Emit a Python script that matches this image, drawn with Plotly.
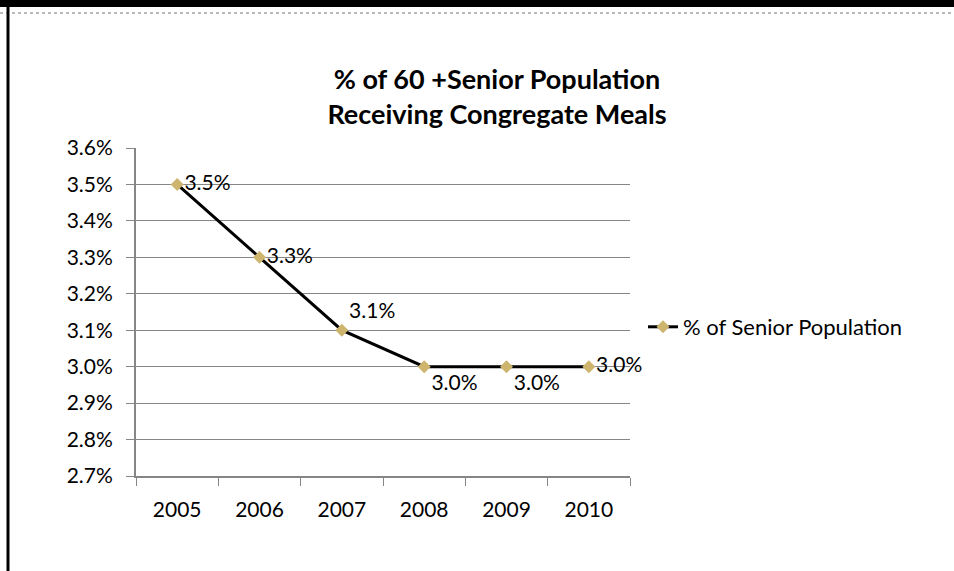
import plotly.graph_objects as go

years = ["2005", "2006", "2007", "2008", "2009", "2010"]
pct_senior = [0.035, 0.033, 0.031, 0.030, 0.030, 0.030]
label_pos = ["middle right", "middle right", "top right", "bottom right", "bottom right", "middle right"]
series_name = "% of Senior Population"
title_text = "% of 60 +Senior Population<br>Receiving Congregate Meals"

W, H = 954, 571
L, R, T, B = 136, 630, 148, 476
FONT = "Lato, Open Sans, sans-serif"

fig = go.Figure()
fig.add_trace(go.Scatter(
    x=years, y=pct_senior, name=series_name,
    mode="lines+markers+text",
    line=dict(color="#000000", width=3),
    marker=dict(symbol="diamond", size=10, color="#CDB56E"),
    text=[f"{v*100:.1f}%" for v in pct_senior],
    textposition=label_pos,
    textfont=dict(family=FONT, size=21, color="#000000"),
    cliponaxis=False,
))

fig.update_layout(
    width=W, height=H,
    margin=dict(l=L, r=W - R, t=T, b=H - B, pad=0),
    paper_bgcolor="white", plot_bgcolor="white",
    font=dict(family=FONT, color="#000000"),
    title=dict(text=title_text, xref="container", x=497 / W, xanchor="center",
               yref="container", y=1 - 89 / H, yanchor="middle",
               font=dict(size=27, family=FONT, weight="bold")),
    showlegend=True,
    legend=dict(xref="paper", x=(643 - L) / (R - L), xanchor="left",
                yref="paper", y=(B - 327) / (B - T), yanchor="middle",
                font=dict(size=22), itemwidth=30, bgcolor="rgba(0,0,0,0)"),
    xaxis=dict(type="category", range=[-0.5, 5.5], showgrid=False,
               showline=True, linecolor="#868686", linewidth=2,
               ticks="outside", tickson="boundaries", ticklen=8, tickcolor="#868686",
               tickfont=dict(size=21), ticklabelstandoff=14, zeroline=False),
    yaxis=dict(range=[0.027, 0.036], dtick=0.001, tickformat=".1%",
               showgrid=True, gridcolor="#868686", gridwidth=1,
               showline=True, linecolor="#868686", linewidth=2,
               ticks="outside", ticklen=8, tickcolor="#868686",
               tickfont=dict(size=21), ticklabelstandoff=9, zeroline=False),
    shapes=[
        dict(type="rect", xref="paper", yref="paper", x0=-L / (R - L), x1=(W - L) / (R - L),
             y0=(B - 0) / (B - T), y1=(B - 7) / (B - T), fillcolor="#000000", line=dict(width=0), layer="above"),
        dict(type="line", xref="paper", yref="paper", x0=-L / (R - L), x1=(W - L) / (R - L),
             y0=(B - 13) / (B - T), y1=(B - 13) / (B - T), line=dict(color="#777777", width=1, dash="dot")),
        dict(type="line", xref="paper", yref="paper", x0=(8 - L) / (R - L), x1=(8 - L) / (R - L),
             y0=(B - 7) / (B - T), y1=(B - H) / (B - T), line=dict(color="#000000", width=3)),
    ],
)

fig.write_html("out.html")
